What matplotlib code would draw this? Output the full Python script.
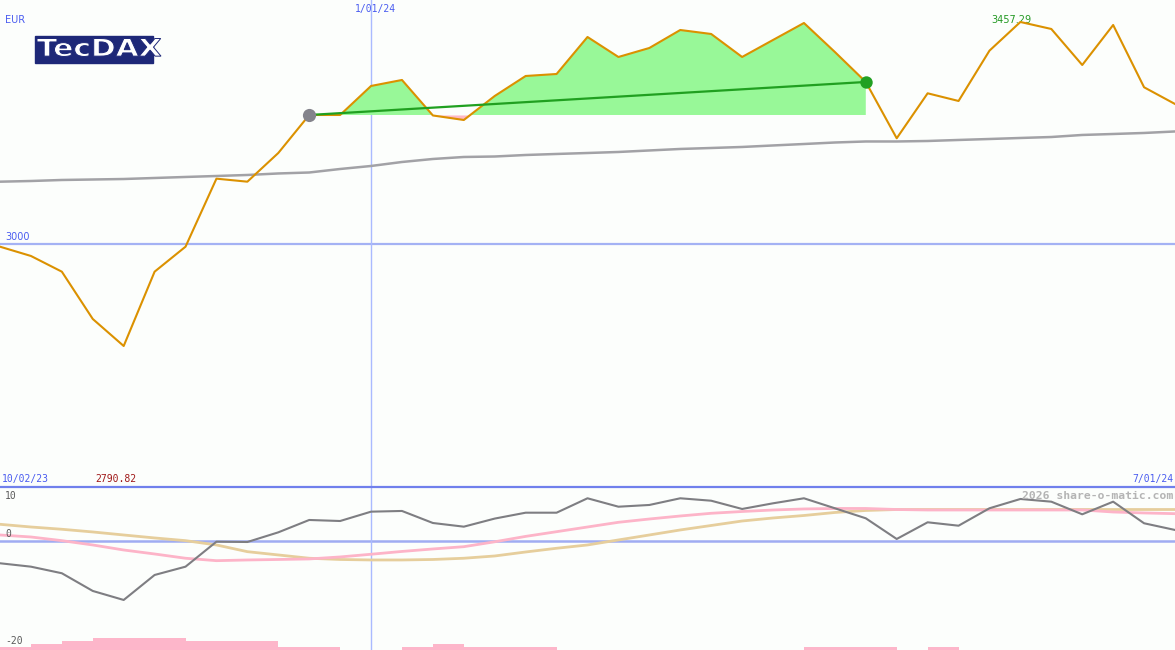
import numpy as np
import matplotlib
matplotlib.use("Agg")
import matplotlib.pyplot as plt
from matplotlib.patches import Rectangle, PathPatch
from matplotlib.textpath import TextPath
from matplotlib.font_manager import FontProperties
from matplotlib.transforms import Affine2D, IdentityTransform

W, H = 1175, 650

# weekly closes, TecDAX (EUR), 10/02/23 .. 7/01/24
price = [2995.1, 2976.0, 2943.7, 2846.4, 2790.82, 2943.7, 2995.1, 3135.0, 3128.8, 3187.8,
         3266.0, 3266.0, 3325.7, 3338.0, 3265.0, 3255.7, 3305.1, 3346.2, 3350.3, 3426.4,
         3385.3, 3403.8, 3440.8, 3432.6, 3385.3, 3420.3, 3455.2, 3395.6, 3333.9, 3218.1,
         3310.6, 3294.8, 3398.3, 3457.29, 3442.9, 3368.8, 3451.1, 3323.0, 3288.6]

# long moving average (grey)
ma_long = [3128.8, 3130.2, 3132.3, 3133.3, 3134.3, 3136.4, 3138.5, 3140.5, 3142.6, 3145.7,
           3147.7, 3154.9, 3161.1, 3169.3, 3175.5, 3179.6, 3180.6, 3183.7, 3185.8, 3187.8,
           3189.9, 3193.0, 3196.1, 3198.1, 3200.2, 3203.3, 3206.3, 3209.4, 3211.5, 3211.5,
           3212.5, 3214.6, 3216.6, 3218.7, 3220.7, 3224.9, 3226.9, 3229.0, 3232.1]

# lower panel: momentum and its two signal lines
momentum = [-4.13, -4.76, -5.98, -9.26, -10.93, -6.30, -4.76, -0.13, -0.19, 1.60,
            3.89, 3.70, 5.43, 5.56, 3.33, 2.65, 4.15, 5.24, 5.24, 7.91,
            6.35, 6.67, 7.91, 7.46, 5.93, 6.98, 7.91, 6.06, 4.20, 0.37,
            3.46, 2.83, 6.06, 7.78, 7.28, 4.94, 7.28, 3.28, 2.04]
signal_pink = [1.11, 0.74, 0.06, -0.74, -1.67, -2.41, -3.20, -3.65, -3.52, -3.43,
               -3.33, -2.96, -2.46, -1.94, -1.48, -1.06, -0.15, 0.85, 1.72, 2.59,
               3.46, 4.07, 4.63, 5.13, 5.46, 5.74, 5.93, 6.02, 6.02, 5.83,
               5.74, 5.74, 5.74, 5.74, 5.74, 5.74, 5.37, 5.19, 5.06]
signal_tan = [3.09, 2.59, 2.17, 1.67, 1.11, 0.56, 0.06, -0.74, -1.98, -2.59,
              -3.20, -3.43, -3.52, -3.52, -3.43, -3.20, -2.78, -2.04, -1.35, -0.74,
              0.19, 1.11, 2.04, 2.87, 3.70, 4.26, 4.72, 5.28, 5.65, 5.83,
              5.83, 5.83, 5.83, 5.83, 5.83, 5.83, 5.83, 5.83, 5.83]
# small pink step bars at the bottom of the lower panel (relative levels)
bar_level = [1, 2, 3, 4, 4, 4, 3, 3, 3, 1, 1, 0, 0, 1, 2, 1, 1, 1, 0, 0,
             0, 0, 0, 0, 0, 0, 1, 1, 1, 0, 1, 0, 0, 0, 0, 0, 0, 0]

trend_start, trend_end = 10, 28
year_mark = 12
first_label, last_label = "10/02/23", "7/01/24"

BG = "#FCFEFC"
BLUE_TXT = "#4A5CF0"
NAVY = "#1E2878"
MONO = "DejaVu Sans Mono"


def fig_text(fig, x, y, s, **kw):
    fig.text(x / W, 1 - y / H, s, va="center", **kw)


def draw_logo(fig):
    # navy box plus stretched bold lettering, placed in output pixels
    fig.patches.append(Rectangle((35 / W, 1 - 63 / H), 118 / W, 27 / H,
                                 transform=fig.transFigure, color=NAVY, zorder=10))
    tp = TextPath((0, 0), "TecDAX", size=10, prop=FontProperties(family="DejaVu Sans", weight="bold"))
    ext = tp.get_extents()
    x0, x1, ytop, ybase = 37, 161, 38.5, 56.5
    sx = (x1 - x0) / ext.width
    sy = (ybase - ytop) / ext.height
    tr = Affine2D().translate(-ext.x0, -ext.y0).scale(sx, sy).translate(x0, H - ybase)
    fig.patches.append(PathPatch(tr.transform_path(tp), transform=IdentityTransform(),
                                 facecolor="white", edgecolor=NAVY, lw=0.7, zorder=11))


def main() -> None:
    fig = plt.figure(figsize=(W / 100, H / 100), dpi=100, facecolor=BG)
    top = fig.add_axes([0, 163 / H, 1, 487 / H], facecolor=BG)
    bot = fig.add_axes([0, 0, 1, 163 / H], facecolor=BG)

    x = np.arange(len(price))
    p = np.array(price)

    # --- price panel
    top.axhline(3000, color="#A4B2F4", lw=1.6, zorder=1)
    top.axvline(year_mark, color="#AABAFF", lw=1.0, zorder=1)
    top.plot(x, ma_long, color="#A2A2A6", lw=1.8, zorder=2)

    seg = slice(trend_start, trend_end + 1)
    base = p[trend_start]
    top.fill_between(x[seg], p[seg], base, where=p[seg] >= base, interpolate=True,
                     color="#98F898", lw=0, zorder=2)
    top.fill_between(x[seg], p[seg], base, where=p[seg] < base, interpolate=True,
                     color="#FFB8C6", lw=0, zorder=2)
    top.plot(x, p, color="#DB9100", lw=1.5, zorder=4)
    top.plot([trend_start, trend_end], [p[trend_start], p[trend_end]],
             color="#20A020", lw=1.6, zorder=5)
    top.scatter([trend_start], [p[trend_start]], s=90, color="#84848C", zorder=6, lw=0)
    top.scatter([trend_end], [p[trend_end]], s=80, color="#22A022", zorder=6, lw=0)

    imax = int(np.argmax(p))
    top.annotate(f"{p[imax]:.2f}", xy=(imax, p[imax]), xytext=(-9, 2),
                 textcoords="offset pixels", ha="center", va="center",
                 color="#229922", fontsize=7, family="DejaVu Sans")

    top.set_xlim(0, len(price) - 1)
    top.set_ylim(2500.8, 3502.5)
    top.axis("off")

    # --- lower panel
    bot.axhline(0, color="#A0ACF2", lw=1.8, zorder=1)
    bot.axvline(year_mark, color="#AABAFF", lw=1.0, zorder=1)
    ylo = -20.2
    bot.bar(np.arange(len(bar_level)), np.array(bar_level) * 0.56, width=1.0,
            bottom=ylo, align="edge", color="#FDB6CA", lw=0, zorder=1)
    bot.plot(x, signal_tan, color="#E6CE9C", lw=2.0, zorder=2)
    bot.plot(x, signal_pink, color="#FDB4C8", lw=2.0, zorder=3)
    bot.plot(x, momentum, color="#7E7E82", lw=1.5, zorder=4)
    bot.axhline(10, color="#7080EC", lw=1.6, zorder=5, clip_on=False)
    bot.set_xlim(0, len(price) - 1)
    bot.set_ylim(ylo, 10)
    bot.axis("off")

    # --- labels
    fig_text(fig, 5, 20, "EUR", color=BLUE_TXT, fontsize=7, family="DejaVu Sans")
    fig_text(fig, 5, 237, "3000", color=BLUE_TXT, fontsize=7, family="DejaVu Sans")
    fig_text(fig, 375, 9, "1/01/24", color=BLUE_TXT, fontsize=7, family=MONO, ha="center")
    fig_text(fig, 2, 479, first_label, color=BLUE_TXT, fontsize=7, family=MONO)
    fig_text(fig, 95, 479, f"{min(price):.2f}", color="#A01818", fontsize=7, family=MONO)
    fig_text(fig, 1173, 479, last_label, color=BLUE_TXT, fontsize=7, family=MONO, ha="right")
    fig_text(fig, 1173, 496, "2026 share-o-matic.com", color="#B4B4B4", fontsize=8.2,
             family=MONO, ha="right", fontweight="bold")
    for yy, s in [(496, "10"), (534, "0"), (641, "-20")]:
        fig_text(fig, 5, yy, s, color="#5A5A5A", fontsize=7, family=MONO)

    draw_logo(fig)

    fig.savefig("out.png", dpi=100, facecolor=BG)
    plt.close(fig)


if __name__ == "__main__":
    main()
